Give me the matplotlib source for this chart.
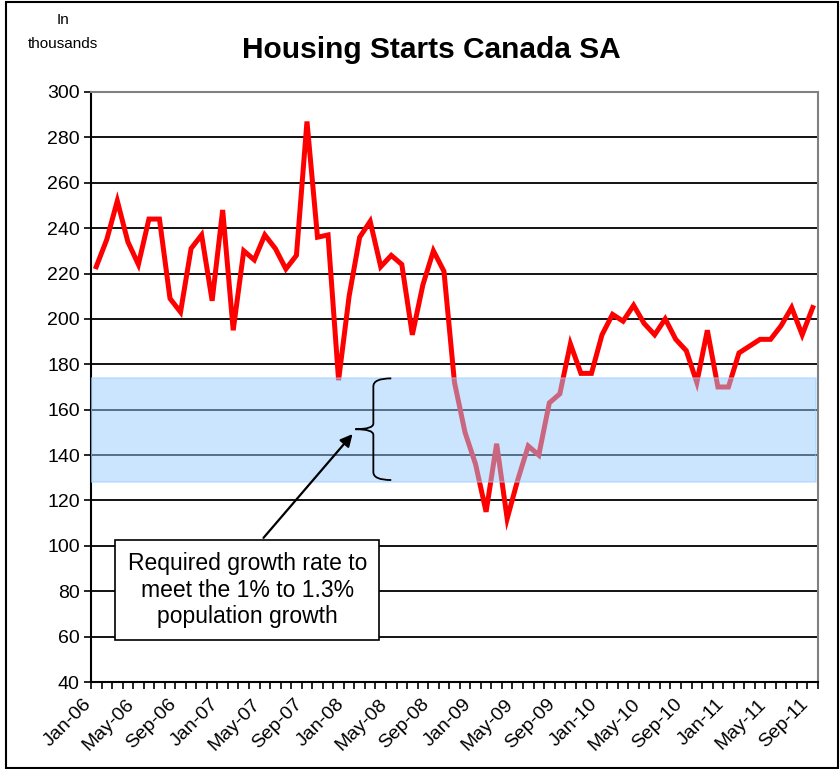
import numpy as np
from matplotlib import pyplot as plt
from matplotlib.patches import Rectangle, PathPatch
from matplotlib.path import Path
from matplotlib.transforms import ScaledTranslation

# monthly housing starts, Jan-06 .. Sep-11 (thousands, SA)
months = ["Jan", "Feb", "Mar", "Apr", "May", "Jun",
          "Jul", "Aug", "Sep", "Oct", "Nov", "Dec"]
labels = [f"{m}-{y:02d}" for y in range(6, 12) for m in months][:69]
starts = [223, 235, 252, 234, 224, 244, 244, 209, 203, 231, 237, 208,
          248, 195, 230, 226, 237, 231, 222, 228, 287, 236, 237, 173,
          210, 236, 243, 223, 228, 224, 193, 215, 230, 221, 172, 150,
          136, 115, 145, 112, 129, 144, 140, 163, 167, 189, 176, 176,
          193, 202, 199, 206, 198, 193, 200, 191, 186, 172, 195, 170,
          170, 185, 188, 191, 191, 197, 205, 193, 205]
band_low, band_high = 128, 174  # required range
yticks = list(range(40, 301, 20))

plt.rcParams["font.family"] = ["Liberation Sans", "DejaVu Sans"]

fig = plt.figure(figsize=(8.4, 7.69), dpi=100)
ax = fig.add_axes([0.1083, 0.1131, 0.8655, 0.7673])

x = np.arange(len(starts))
ax.plot(x, starts, color="#FF0000", lw=3.6, solid_joinstyle="miter", zorder=3)

# shaded band drawn over the line, like the original
ax.axhspan(band_low, band_high, xmin=0, xmax=0.997, facecolor="#99CCFF",
           edgecolor="#99CCFF", alpha=0.5, lw=1.2, zorder=4)

ax.set_xlim(-0.5, len(starts) - 0.5)
ax.set_ylim(40, 300)
ax.set_yticks(yticks)
ax.tick_params(axis="y", labelsize=14, length=5, width=1.2, pad=3)
ax.yaxis.grid(True, color="black", lw=1.3)
ax.set_axisbelow(True)

# ticks between categories, labels every 4 months
ax.set_xticks(np.arange(len(starts) + 1) - 0.5, minor=True)
ax.set_xticks(x[::4])
ax.set_xticklabels(labels[::4], rotation=45, ha="right", rotation_mode="anchor",
                   fontsize=14)
ax.tick_params(axis="x", which="major", length=0, pad=10)
ax.tick_params(axis="x", which="minor", length=5, width=1.2)
shift = ScaledTranslation(-13 / 100, 0, fig.dpi_scale_trans)
for lab in ax.get_xticklabels():
    lab.set_transform(lab.get_transform() + shift)

for side in ["left", "bottom"]:
    ax.spines[side].set_linewidth(1.5)
for side in ["top", "right"]:
    ax.spines[side].set_color("#808080")
    ax.spines[side].set_linewidth(1.5)

# curly brace next to the band
bx, tip, top, bot = 26.3, 24.6, 173.8, 129.0
mid = (top + bot) / 2
verts = [(28.0, top), (bx, top), (bx, top - 3.5),
         (bx, mid + 2.5), (bx, mid), (tip, mid),
         (bx, mid), (bx, mid - 2.5),
         (bx, bot + 3.5), (bx, bot), (28.0, bot)]
codes = [Path.MOVETO, Path.CURVE3, Path.CURVE3,
         Path.LINETO, Path.CURVE3, Path.CURVE3,
         Path.CURVE3, Path.CURVE3,
         Path.LINETO, Path.CURVE3, Path.CURVE3]
ax.add_patch(PathPatch(Path(verts, codes), fill=False, lw=1.3, color="black", zorder=5))

# text box and arrow
ax.add_patch(Rectangle((1.77, 58.5), 25.1, 44.1, facecolor="white",
                       edgecolor="black", lw=1.2, zorder=6))
ax.text(14.35, 80.5, "Required growth rate to\nmeet the 1% to 1.3%\npopulation growth",
        ha="center", va="center", fontsize=16.5, linespacing=1.2, zorder=7)
ax.annotate("", xy=(24.5, 150.2), xytext=(15.7, 102.6),
            arrowprops=dict(arrowstyle="-|>", color="black", lw=1.6,
                            mutation_scale=18), zorder=7)

fig.text(0.513, 0.935, "Housing Starts Canada SA", ha="center", va="center",
         fontsize=21.5, fontweight="bold")
fig.text(0.075, 0.958, "In\nthousands", ha="center", va="center",
         fontsize=11, linespacing=1.9)

fig.patches.append(Rectangle((0.007, 0.001), 0.991, 0.997, transform=fig.transFigure,
                             fill=False, edgecolor="black", lw=1.5))

plt.savefig("out.png", dpi=100)
